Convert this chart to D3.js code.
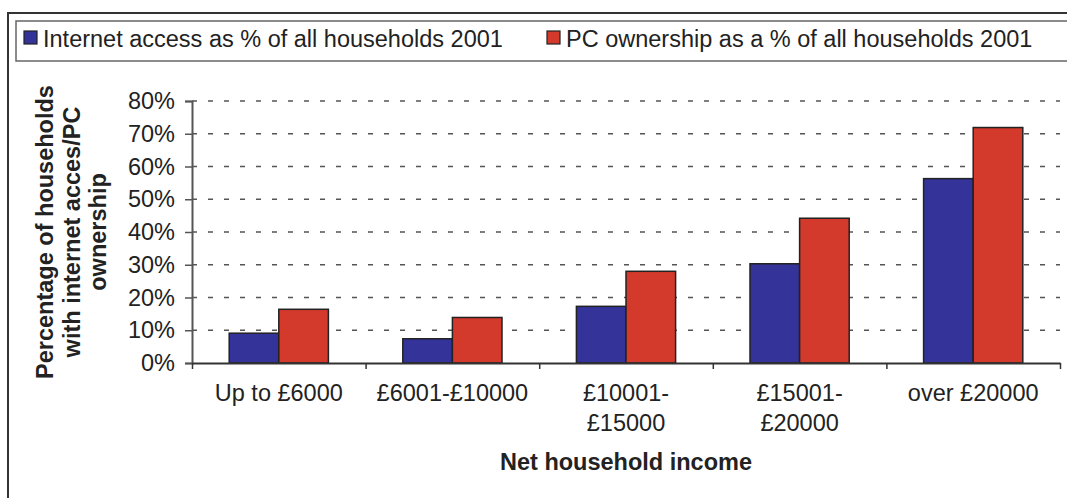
<!DOCTYPE html>
<html>
<head>
<meta charset="utf-8">
<script src="https://cdn.jsdelivr.net/npm/d3@7"></script>
<style>
  html, body { margin: 0; padding: 0; background: #fff; }
  svg { display: block; font-family: "Liberation Sans", Arial, sans-serif; }
</style>
</head>
<body>
<svg id="chart" width="1067" height="498"></svg>
<script>
// Household income bands (each entry is one wrapped label, one line per element)
const categories = [
  ["Up to £6000"],
  ["£6001-£10000"],
  ["£10001-", "£15000"],
  ["£15001-", "£20000"],
  ["over £20000"]
];
const seriesNames = [
  "Internet access as % of all households 2001",
  "PC ownership as a % of all households 2001"
];
const internetAccess = [9.1, 7.4, 17.3, 30.3, 56.3];
const pcOwnership   = [16.4, 13.9, 28.0, 44.2, 71.9];
const yTicks = [0, 10, 20, 30, 40, 50, 60, 70, 80];
const seriesColors = ["#333399", "#d33a2c"];

const FONT = 23.5;
const svg = d3.select("#chart");

// Outer frame and legend box (they run off the right/bottom edges)
svg.append("path")
  .attr("d", "M8,500 L8,13 L1080,13")
  .attr("fill", "none").attr("stroke", "#333").attr("stroke-width", 2);
svg.append("rect")
  .attr("x", 16).attr("y", 21).attr("width", 1070).attr("height", 40)
  .attr("fill", "none").attr("stroke", "#666").attr("stroke-width", 1.5);

// Plot area
const plot = { left: 192, right: 1060, top: 101, bottom: 363 };

const x0 = d3.scaleBand()
  .domain(d3.range(categories.length))
  .range([plot.left, plot.right])
  .paddingInner(0).paddingOuter(0);

// Excel-style gap width of 150% of a single bar
const barW = x0.bandwidth() / (2 + 1.5);
const x1 = d3.scaleBand().domain([0, 1])
  .range([0, barW * 2]);

const y = d3.scaleLinear().domain([0, 80]).range([plot.bottom, plot.top]);

// Dashed gridlines
svg.append("g").selectAll("line")
  .data(yTicks.filter(t => t > 0))
  .join("line")
  .attr("x1", plot.left).attr("x2", plot.right)
  .attr("y1", d => y(d)).attr("y2", d => y(d))
  .attr("stroke", "#555").attr("stroke-width", 1.5)
  .attr("stroke-dasharray", "5,11");

// Bars
const seriesData = [internetAccess, pcOwnership];
const groups = svg.append("g").selectAll("g")
  .data(categories.map((c, i) => i))
  .join("g")
  .attr("transform", i => `translate(${x0(i) + (x0.bandwidth() - barW * 2) / 2},0)`);

groups.selectAll("rect")
  .data(i => seriesData.map((s, k) => ({ k, v: s[i] })))
  .join("rect")
  .attr("x", d => x1(d.k))
  .attr("width", x1.bandwidth())
  .attr("y", d => y(d.v))
  .attr("height", d => y(0) - y(d.v))
  .attr("fill", d => seriesColors[d.k])
  .attr("stroke", "#222").attr("stroke-width", 1.5);

// Y axis
const yAxis = d3.axisLeft(y)
  .tickValues(yTicks)
  .tickFormat(d => d + "%")
  .tickSize(7).tickPadding(10);
const gy = svg.append("g")
  .attr("transform", `translate(${plot.left},0)`)
  .call(yAxis);
gy.select(".domain").attr("stroke", "#555").attr("stroke-width", 2);
gy.selectAll(".tick line").attr("stroke", "#555").attr("stroke-width", 1.5);
gy.selectAll(".tick text")
  .attr("font-size", FONT).attr("fill", "#222")
  .attr("font-family", "Liberation Sans, Arial, sans-serif");

// X axis: ticks at category boundaries
const xEdge = d3.scaleLinear().domain([0, categories.length]).range([plot.left, plot.right]);
const gx = svg.append("g")
  .attr("transform", `translate(0,${plot.bottom})`)
  .call(d3.axisBottom(xEdge).tickValues(d3.range(categories.length + 1)).tickFormat("").tickSize(6).tickSizeOuter(0));
gx.select(".domain").attr("stroke", "#333").attr("stroke-width", 2);
gx.selectAll(".tick line").attr("stroke", "#333").attr("stroke-width", 1.5);

// Category labels
svg.append("g").selectAll("text")
  .data(categories)
  .join("text")
  .attr("text-anchor", "middle")
  .attr("font-size", FONT).attr("fill", "#222")
  .attr("transform", (d, i) => `translate(${x0(i) + x0.bandwidth() / 2},401)`)
  .selectAll("tspan")
  .data(d => d)
  .join("tspan")
  .attr("x", 0)
  .attr("y", (d, j) => j * 30)
  .text(d => d);

// Axis titles
svg.append("text")
  .attr("x", (plot.left + plot.right) / 2).attr("y", 470)
  .attr("text-anchor", "middle")
  .attr("font-size", FONT).attr("font-weight", "bold").attr("fill", "#222")
  .text("Net household income");

const yTitle = ["Percentage of households", "with internet acces/PC", "ownership"];
svg.append("text")
  .attr("transform", `translate(53,${(plot.top + plot.bottom) / 2}) rotate(-90)`)
  .attr("text-anchor", "middle")
  .attr("font-size", FONT).attr("font-weight", "bold").attr("fill", "#222")
  .selectAll("tspan")
  .data(yTitle)
  .join("tspan")
  .attr("x", 0)
  .attr("y", (d, j) => j * 26.5)
  .text(d => d);

// Legend
const legendPos = [24, 547];
const legend = svg.append("g").selectAll("g")
  .data(seriesNames)
  .join("g")
  .attr("transform", (d, i) => `translate(${legendPos[i]},31)`);
legend.append("rect")
  .attr("width", 13).attr("height", 13)
  .attr("fill", (d, i) => seriesColors[i])
  .attr("stroke", "#222").attr("stroke-width", 1.2);
legend.append("text")
  .attr("x", 19).attr("y", 16)
  .attr("font-size", FONT).attr("fill", "#222")
  .text(d => d);
</script>
</body>
</html>
